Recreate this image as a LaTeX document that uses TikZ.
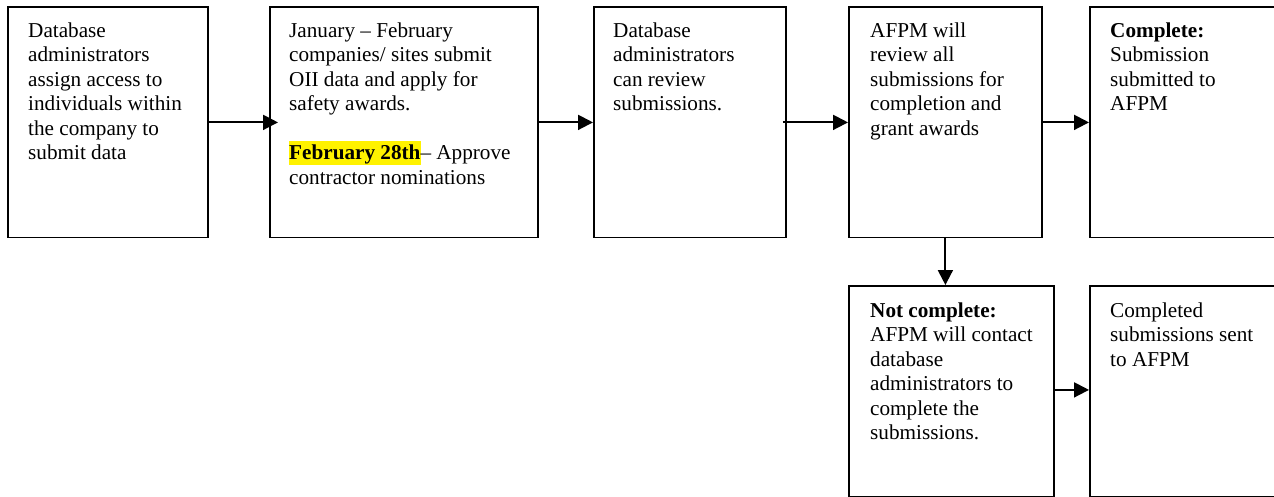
\documentclass[tikz,border=0pt]{standalone}
\usepackage{fontspec}
\setmainfont{Liberation Serif}
\usetikzlibrary{arrows.meta}
\begin{document}
\begin{tikzpicture}[x=1pt,y=-1pt,
  box/.style={draw, line width=1.8pt, inner sep=0pt, anchor=north west},
  txt/.style={inner sep=0pt, anchor=base west, font=\fontsize{21.2pt}{24.5pt}\selectfont},
  arr/.style={line width=2pt, -{Triangle[length=15pt,width=15pt]}}]
\useasboundingbox (0,0) rectangle (1274,497);
\clip (0,0) rectangle (1274,497);
% boxes
\node[box, minimum width=200pt, minimum height=230pt] (b1) at (7,6.5) {};
\node[box, minimum width=268pt, minimum height=230pt] (b2) at (269,6.5) {};
\node[box, minimum width=192pt, minimum height=230pt] (b3) at (593,6.5) {};
\node[box, minimum width=193pt, minimum height=230pt] (b4) at (848,6.5) {};
\node[box, minimum width=200pt, minimum height=230pt] (b5) at (1089,6.5) {};
\node[box, minimum width=205pt, minimum height=211pt] (b6) at (848,285) {};
\node[box, minimum width=200pt, minimum height=211pt] (b7) at (1089,285) {};
% texts
\node[txt] (t1) at ([shift={(21,31)}]b1.north west) {\parbox[t]{180pt}{\raggedright
Database\\administrators\\assign access to\\individuals within\\the company to\\submit data}};
\node[txt] (t2) at ([shift={(20,31)}]b2.north west) {\parbox[t]{245pt}{\raggedright
January -- February\\companies/ sites submit\\OII data and apply for\\safety awards.\\[24.5pt]%
{\setlength{\fboxsep}{0pt}\colorbox{yellow}{\rule[-5pt]{0pt}{24pt}\textbf{February 28th}}}-- Approve\\contractor nominations}};
\node[txt] (t3) at ([shift={(20,31)}]b3.north west) {\parbox[t]{170pt}{\raggedright
Database\\administrators\\can review\\submissions.}};
\node[txt] (t4) at ([shift={(22,31)}]b4.north west) {\parbox[t]{170pt}{\raggedright
AFPM will\\review all\\submissions for\\completion and\\grant awards}};
\node[txt] (t5) at ([shift={(21,31)}]b5.north west) {\parbox[t]{170pt}{\raggedright
\textbf{Complete:}\\Submission\\submitted to\\AFPM}};
\node[txt] (t6) at ([shift={(22,32)}]b6.north west) {\parbox[t]{180pt}{\raggedright
\textbf{Not complete:}\\AFPM will contact\\database\\administrators to\\complete the\\submissions.}};
\node[txt] (t7) at ([shift={(21,32)}]b7.north west) {\parbox[t]{170pt}{\raggedright
Completed\\submissions sent\\to AFPM}};
% arrows
\draw[arr] (b1.east) -- ([xshift=9pt]b2.west);
\draw[arr] (b2.east) -- (b3.west);
\draw[arr] ([xshift=-4pt]b3.east) -- (b4.west);
\draw[arr] (b4.east) -- (b5.west);
\draw[arr] (b4.south) -- (b6.north -| b4.south);
\draw[arr] ([yshift=1.5pt]b6.east) -- ([yshift=1.5pt]b7.west |- b6.east);
\end{tikzpicture}
\end{document}
